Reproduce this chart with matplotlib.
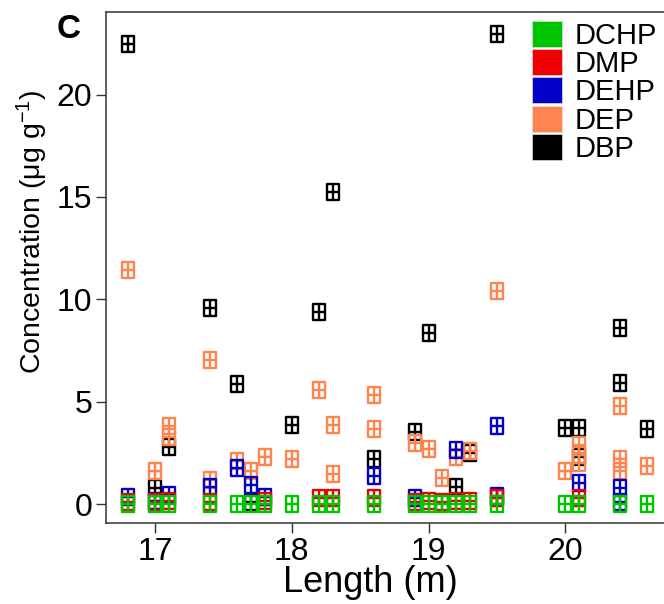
import matplotlib
matplotlib.use("Agg")
import matplotlib.pyplot as plt
from matplotlib.path import Path
from matplotlib.patches import Patch

plt.rcParams['font.family'] = ['Liberation Sans', 'DejaVu Sans']
plt.rcParams['mathtext.fontset'] = 'custom'
plt.rcParams['mathtext.rm'] = 'Liberation Sans'
plt.rcParams['mathtext.it'] = 'Liberation Sans:italic'

# series (length in m, concentration in ug/g)
DBP_X = [16.8, 17.0, 17.1, 17.4, 17.6, 17.7, 18.0, 18.2, 18.3, 18.6, 18.9,
         19.0, 19.2, 19.3, 19.5, 20.0, 20.1, 20.1, 20.4, 20.4, 20.6]
DBP_Y = [22.45, 0.8, 2.8, 9.59, 5.85, 0.1, 3.88, 9.39, 15.24, 2.18, 3.53,
         8.34, 0.85, 2.5, 22.98, 3.7, 3.7, 2.3, 8.61, 5.9, 3.65]

DEP_X = [16.8, 17.0, 17.1, 17.1, 17.4, 17.4, 17.6, 17.7, 17.8, 18.0, 18.2,
         18.3, 18.3, 18.6, 18.6, 18.9, 19.0, 19.1, 19.2, 19.3, 19.5, 19.5,
         20.0, 20.1, 20.1, 20.1, 20.4, 20.4, 20.4, 20.6]
DEP_Y = [11.43, 1.63, 3.83, 3.29, 7.03, 1.17, 2.1, 1.63, 2.31, 2.18, 5.57,
         3.86, 1.47, 5.32, 3.65, 2.96, 2.67, 1.25, 2.31, 2.6, 10.42, 0.3,
         1.63, 2.88, 2.4, 2.0, 4.79, 2.2, 1.6, 1.86]

DEHP_X = [16.8, 17.0, 17.1, 17.4, 17.6, 17.7, 17.8, 18.6, 18.9, 19.2, 19.5,
          19.5, 20.1, 20.4, 20.4]
DEHP_Y = [0.36, 0.15, 0.44, 0.81, 1.74, 0.93, 0.36, 1.37, 0.3, 2.64, 3.83,
          0.4, 1.01, 0.77, 0.1]

DMP_X = [16.8, 17.0, 17.1, 17.4, 17.8, 18.2, 18.3, 18.6, 18.9, 19.0, 19.1,
         19.2, 19.3, 19.5, 20.1]
DMP_Y = [0.1, 0.1, 0.15, 0.1, 0.15, 0.3, 0.3, 0.3, 0.1, 0.15, 0.1, 0.15,
         0.15, 0.3, 0.3]

DCHP_X = [16.8, 17.0, 17.1, 17.4, 17.6, 17.7, 17.8, 18.0, 18.2, 18.3, 18.6,
          18.9, 19.0, 19.1, 19.2, 19.3, 19.5, 20.0, 20.1, 20.4, 20.6]
DCHP_Y = [0.0] * len(DCHP_X)

NAMES = ['DCHP', 'DMP', 'DEHP', 'DEP', 'DBP']
COLORS = {'DCHP': '#00c400', 'DMP': '#f00000', 'DEHP': '#0000c8',
          'DEP': '#ff8550', 'DBP': '#000000'}
SERIES = {'DCHP': (DCHP_X, DCHP_Y), 'DMP': (DMP_X, DMP_Y),
          'DEHP': (DEHP_X, DEHP_Y), 'DEP': (DEP_X, DEP_Y),
          'DBP': (DBP_X, DBP_Y)}


def box_plus_marker():
    """Rectangle with a cross inside, a bit taller than wide."""
    w, h = 0.37, 0.5
    verts = [(-w, -h), (w, -h), (w, h), (-w, h), (-w, -h),
             (0, -h), (0, h), (-w, 0), (w, 0)]
    codes = [Path.MOVETO, Path.LINETO, Path.LINETO, Path.LINETO,
             Path.CLOSEPOLY, Path.MOVETO, Path.LINETO, Path.MOVETO,
             Path.LINETO]
    return Path(verts, codes)


fig = plt.figure(figsize=(6.64, 6.04), dpi=100)
ax = fig.add_axes([0.1596, 0.134, 0.8419, 0.846])

marker = box_plus_marker()
# black first, green last (green ends up on top)
for name in reversed(NAMES):
    xs, ys = SERIES[name]
    ax.plot(xs, ys, linestyle='none', marker=marker, markersize=11.5,
            markerfacecolor='none', markeredgecolor=COLORS[name],
            markeredgewidth=1.7)

ax.set_xlim(16.64, 20.73)
ax.set_ylim(-0.93, 24.03)
ax.set_xticks([17, 18, 19, 20])
ax.set_yticks([0, 5, 10, 15, 20])
ax.tick_params(labelsize=23, length=7, width=1, color='#333333', pad=3)
for side in ['left', 'bottom', 'top', 'right']:
    ax.spines[side].set_linewidth(1.1)
    ax.spines[side].set_color('#333333')

ax.set_xlabel('Length (m)', fontsize=26)
ax.xaxis.set_label_coords(0.4726, -0.083)
ax.set_ylabel('Concentration (μg g$^{-1}$)', fontsize=20.5)
ax.yaxis.set_label_coords(-0.100, 0.57)

handles = [Patch(facecolor=COLORS[n], edgecolor='#dddddd', linewidth=0.5)
           for n in NAMES]
ax.legend(handles, NAMES, loc='upper left',
          bbox_to_anchor=(532 / 664, (604 - 21) / 604),
          bbox_transform=fig.transFigure, frameon=False, fontsize=21,
          handlelength=1.03, handleheight=1.0, labelspacing=-0.03,
          handletextpad=0.42, borderpad=0, borderaxespad=0)

fig.text(57 / 664, 1 - 38 / 604, 'C', fontsize=24, fontweight='bold')

fig.savefig('out.png', dpi=100)
